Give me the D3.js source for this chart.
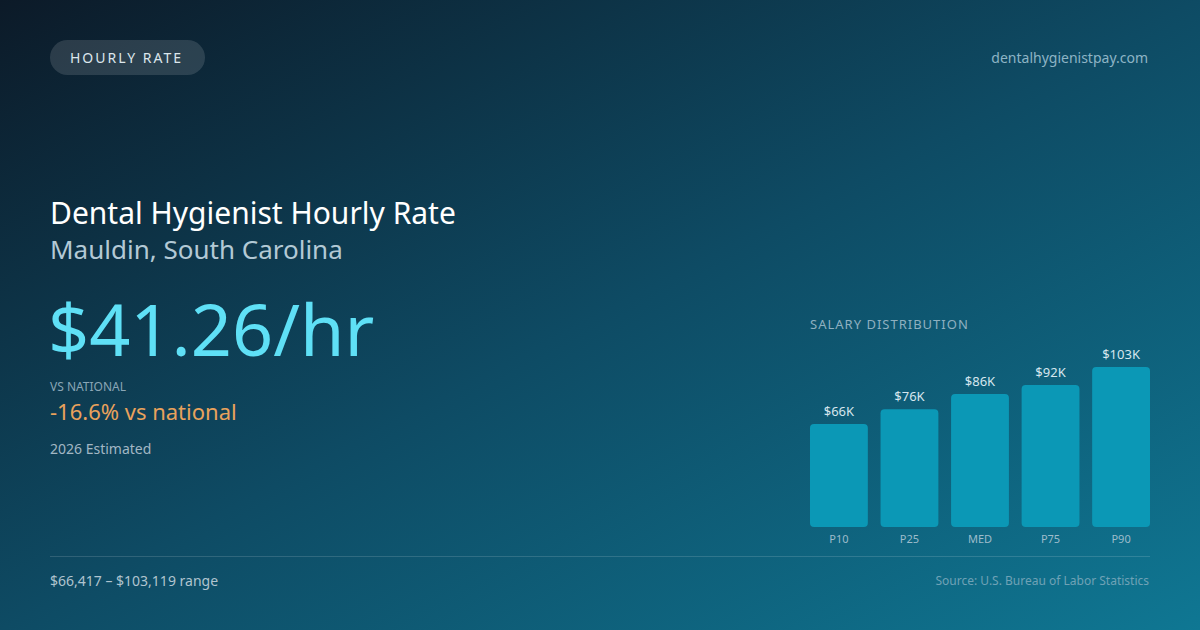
<!DOCTYPE html>
<html>
<head>
<meta charset="utf-8">
<script src="https://cdn.jsdelivr.net/npm/d3@7"></script>
<style>
  html, body { margin: 0; padding: 0; background: #0e1d2c; }
  svg { display: block; font-family: "Noto Sans", "Open Sans", sans-serif; }
</style>
</head>
<body>
<div id="card"></div>
<script>
// Salary distribution (annual, USD)
const percentiles = ['P10', 'P25', 'MED', 'P75', 'P90'];
const salaries = [66417, 75900, 85700, 91500, 103119];

const hourlyRate = '$41.26/hr';
const vsNational = '-16.6% vs national';
const rangeText = '$66,417 \u2013 $103,119 range';

const width = 1200;
const height = 630;

const svg = d3.select('#card')
    .append('svg')
    .attr('width', width)
    .attr('height', height)
    .attr('viewBox', `0 0 ${width} ${height}`);

// Background gradient
const defs = svg.append('defs');
const bg = defs.append('linearGradient')
    .attr('id', 'bg')
    .attr('x1', '0%').attr('y1', '0%')
    .attr('x2', '100%').attr('y2', '100%');
bg.append('stop').attr('offset', '0%').attr('stop-color', '#0c1a28');
bg.append('stop').attr('offset', '50%').attr('stop-color', '#0e4b64');
bg.append('stop').attr('offset', '100%').attr('stop-color', '#0f7793');

svg.append('rect')
    .attr('width', width)
    .attr('height', height)
    .attr('fill', 'url(#bg)');

// Pill badge
svg.append('rect')
    .attr('x', 50).attr('y', 40)
    .attr('width', 155).attr('height', 35)
    .attr('rx', 17.5)
    .attr('fill', 'rgba(255,255,255,0.13)');

svg.append('text')
    .attr('x', 70).attr('y', 62.5)
    .attr('fill', '#dce6ec')
    .style('font-size', '14px')
    .style('letter-spacing', '2px')
    .text('HOURLY RATE');

svg.append('text')
    .attr('x', 1148).attr('y', 63)
    .attr('text-anchor', 'end')
    .attr('fill', '#8db4c5')
    .style('font-size', '14px')
    .text('dentalhygienistpay.com');

// Titles
svg.append('text')
    .attr('x', 50).attr('y', 224)
    .attr('fill', '#ffffff')
    .style('font-size', '30px')
    .text('Dental Hygienist Hourly Rate');

svg.append('text')
    .attr('x', 50).attr('y', 259)
    .attr('fill', '#b3c9d5')
    .style('font-size', '26px')
    .text('Mauldin, South Carolina');

svg.append('text')
    .attr('x', 48).attr('y', 356)
    .attr('fill', '#5fe0f6')
    .style('font-size', '72px')
    .text(hourlyRate);

svg.append('text')
    .attr('x', 50).attr('y', 391)
    .attr('fill', '#8aa6b6')
    .style('font-size', '12px')
    .text('VS NATIONAL');

svg.append('text')
    .attr('x', 50).attr('y', 420)
    .attr('fill', '#e9a25c')
    .style('font-size', '22px')
    .text(vsNational);

svg.append('text')
    .attr('x', 50).attr('y', 454)
    .attr('fill', '#a2b7c4')
    .style('font-size', '14px')
    .text('2026 Estimated');

// Salary distribution chart
svg.append('text')
    .attr('x', 810).attr('y', 329)
    .attr('fill', '#8fb0c0')
    .style('font-size', '13px')
    .style('letter-spacing', '1px')
    .text('SALARY DISTRIBUTION');

const x = d3.scaleBand()
    .domain(percentiles)
    .range([810, 1150])
    .paddingInner(0.18)
    .paddingOuter(0);

const y = d3.scaleLinear()
    .domain([0, d3.max(salaries)])
    .range([527, 367]);

const data = percentiles.map((p, i) => ({ p, v: salaries[i] }));

const bars = svg.append('g');

bars.selectAll('rect')
    .data(data)
    .enter().append('rect')
    .attr('x', d => x(d.p))
    .attr('y', d => y(d.v))
    .attr('width', x.bandwidth())
    .attr('height', d => y(0) - y(d.v))
    .attr('rx', 4)
    .attr('fill', '#0b98b6');

bars.selectAll('.val')
    .data(data)
    .enter().append('text')
    .attr('class', 'val')
    .attr('x', d => x(d.p) + x.bandwidth() / 2)
    .attr('y', d => y(d.v) - 8)
    .attr('text-anchor', 'middle')
    .attr('fill', '#d6e6ee')
    .style('font-size', '13px')
    .text(d => '$' + Math.round(d.v / 1000) + 'K');

// Category axis (no line, labels only)
const xAxis = svg.append('g')
    .attr('transform', `translate(0, ${y(0)})`)
    .call(d3.axisBottom(x).tickSize(0).tickPadding(8));
xAxis.select('.domain').remove();
xAxis.selectAll('text')
    .attr('fill', '#9dbccb')
    .style('font-size', '11px')
    .style('font-family', '"Noto Sans", "Open Sans", sans-serif');

// Divider and footer
svg.append('line')
    .attr('x1', 50).attr('x2', 1150)
    .attr('y1', 556.5).attr('y2', 556.5)
    .attr('stroke', 'rgba(255,255,255,0.14)')
    .attr('stroke-width', 1);

svg.append('text')
    .attr('x', 50).attr('y', 586)
    .attr('fill', '#b0c4cf')
    .style('font-size', '14px')
    .text(rangeText);

svg.append('text')
    .attr('x', 1149).attr('y', 585)
    .attr('text-anchor', 'end')
    .attr('fill', '#6fa2b6')
    .style('font-size', '12px')
    .text('Source: U.S. Bureau of Labor Statistics');
</script>
</body>
</html>
